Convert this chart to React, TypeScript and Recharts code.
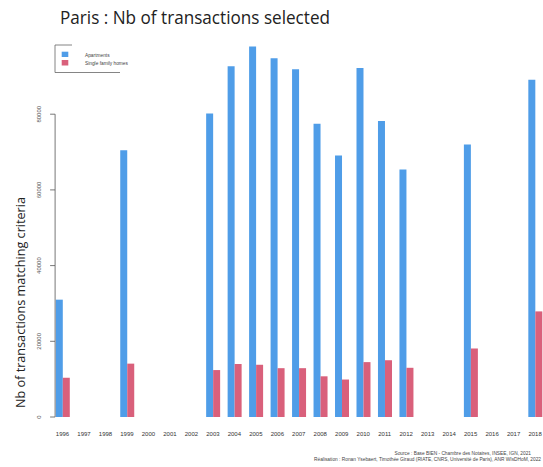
import { BarChart, Bar, XAxis, YAxis } from 'recharts'

// years on the x axis
const years = [
  '1996', '1997', '1998', '1999', '2000', '2001', '2002', '2003', '2004', '2005', '2006', '2007',
  '2008', '2009', '2010', '2011', '2012', '2013', '2014', '2015', '2016', '2017', '2018',
]
// null = no data that year
const apartments = [
  31000, null, null, 70500, null, null, null, 80200, 92700, 97900, 94800, 91900,
  77500, 69100, 92200, 78200, 65400, null, null, 72000, null, null, 89100,
]
const houses = [
  10400, null, null, 14100, null, null, null, 12400, 14000, 13800, 12900, 12900,
  10750, 9900, 14500, 15000, 13000, null, null, 18100, null, null, 27900,
]
const yTicks = [0, 20000, 40000, 60000, 80000]
const Y_MAX = 100000

const BLUE = '#4f9de8'
const RED = '#d9607b'

const WIDTH = 548
const HEIGHT = 467
const MARGIN = { top: 38.5, right: 2.2, left: 11.8, bottom: 30 }
const X_AXIS_H = 20
const PLOT_H = HEIGHT - MARGIN.top - MARGIN.bottom - X_AXIS_H
const TICK_STEP_PX = (PLOT_H * (yTicks[1] - yTicks[0])) / Y_MAX

const data = years.map((year, i) => ({ year, apartments: apartments[i], houses: houses[i] }))

function YTick(props: any) {
  const { x, y, payload, index } = props
  const ax = x + 3.3
  return (
    <g>
      <line x1={ax - 5} x2={ax} y1={y} y2={y} stroke="#555" strokeWidth={0.8} />
      {index > 0 && (
        <line x1={ax} x2={ax} y1={y} y2={y + TICK_STEP_PX} stroke="#555" strokeWidth={0.8} />
      )}
      <text
        x={ax - 16}
        y={y}
        transform={`rotate(-90 ${ax - 16} ${y})`}
        textAnchor="middle"
        dominantBaseline="central"
        fontSize={6}
        fill="#555"
        fontFamily="Liberation Sans, sans-serif"
      >
        {payload.value}
      </text>
    </g>
  )
}

function XTick(props: any) {
  const { x, y, payload } = props
  return (
    <text
      x={x}
      y={y + 17}
      textAnchor="middle"
      dominantBaseline="central"
      fontSize={6}
      fill="#333"
      fontFamily="Liberation Sans, sans-serif"
    >
      {payload.value}
    </text>
  )
}

export default function App() {
  return (
    <div style={{ position: 'absolute', left: 0, top: 0, width: 543, height: HEIGHT, overflow: 'hidden', background: '#fff' }}>
      <BarChart width={WIDTH} height={HEIGHT} data={data} margin={MARGIN} barGap={0}>
        <XAxis
          dataKey="year"
          height={X_AXIS_H}
          axisLine={false}
          tickLine={false}
          tickSize={0}
          tickMargin={0}
          interval={0}
          tick={<XTick />}
        />
        <YAxis
          width={40}
          domain={[0, Y_MAX]}
          ticks={yTicks}
          axisLine={false}
          tickLine={false}
          tickSize={0}
          tickMargin={0}
          interval={0}
          tick={<YTick />}
        />
        <Bar dataKey="apartments" fill={BLUE} barSize={7} isAnimationActive={false} />
        <Bar dataKey="houses" fill={RED} barSize={7} isAnimationActive={false} />
      </BarChart>

      <svg width={543} height={HEIGHT} style={{ position: 'absolute', left: 0, top: 0, pointerEvents: 'none' }}>
        <text
          x={60}
          y={24}
          fontSize={18}
          fill="#222"
          fontFamily="Open Sans, sans-serif"
          textLength={270}
          lengthAdjust="spacingAndGlyphs"
        >
          Paris : Nb of transactions selected
        </text>

        {/* legend box */}
        <polyline points="72,45 55,45 55,72.5 120,72.5" fill="none" stroke="#666" strokeWidth={0.8} />
        <rect x={61.7} y={51.7} width={6.6} height={5.3} fill={BLUE} />
        <rect x={61.7} y={60} width={6.6} height={5.5} fill={RED} />
        <text x={85} y={55} fontSize={4.8} fill="#444" dominantBaseline="central" fontFamily="Liberation Sans, sans-serif">
          Apartments
        </text>
        <text x={85} y={63} fontSize={4.8} fill="#444" dominantBaseline="central" fontFamily="Liberation Sans, sans-serif">
          Single family homes
        </text>

        <text
          x={20}
          y={302.5}
          transform="rotate(-90 20 302.5)"
          textAnchor="middle"
          dominantBaseline="central"
          fontSize={12}
          fill="#222"
          fontFamily="Open Sans, sans-serif"
          textLength={211}
          lengthAdjust="spacingAndGlyphs"
        >
          Nb of transactions matching criteria
        </text>

        <text x={531} y={453} textAnchor="end" dominantBaseline="central" fontSize={4.8} fill="#444" fontFamily="Liberation Sans, sans-serif">
          Source : Base BIEN - Chambre des Notaires, INSEE, IGN, 2021
        </text>
        <text x={541} y={459.5} textAnchor="end" dominantBaseline="central" fontSize={4.8} fill="#444" fontFamily="Liberation Sans, sans-serif">
          Réalisation : Ronan Ysebaert, Timothée Giraud (RIATE, CNRS, Université de Paris), ANR WIsDHoM, 2022
        </text>
      </svg>
    </div>
  )
}
